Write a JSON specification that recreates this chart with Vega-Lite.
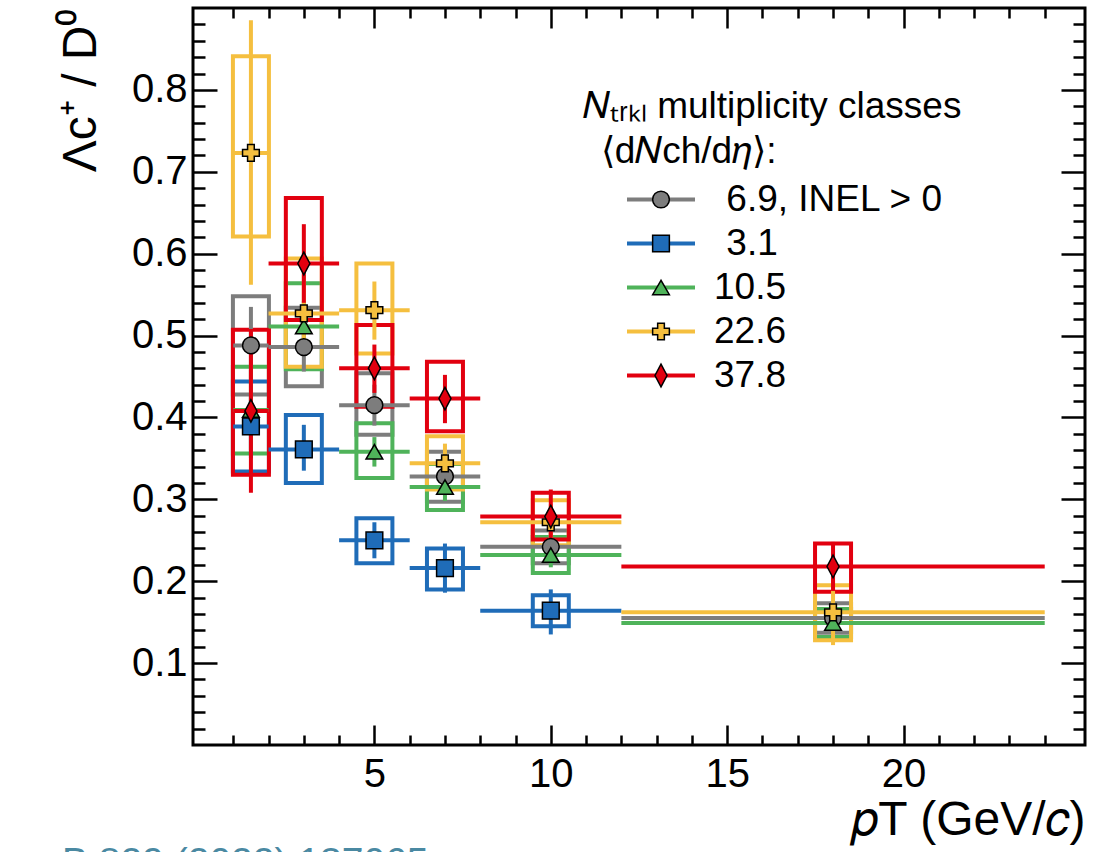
{
  "$schema": "https://vega.github.io/schema/vega-lite/v6.json",
  "width": 892,
  "height": 737,
  "autosize": {"type": "none"},
  "padding": {"left": 193, "top": 8, "right": 16, "bottom": 107},
  "background": "white",
  "title": {"text": "B 829 (2022) 137065", "orient": "bottom", "anchor": "start", "frame": "group", "dx": -131, "offset": 0, "font": "Liberation Sans", "fontSize": 39, "fontWeight": "normal", "color": "#4a89a2"},
  "config": {
    "view": {"stroke": "black", "strokeWidth": 3},
    "font": "Liberation Sans",
    "axis": {"domain": false, "grid": false, "tickColor": "black", "tickWidth": 2.5, "labelColor": "black", "labelFont": "Liberation Sans", "labelFontSize": 40, "labelOverlap": false, "titleFont": "Liberation Sans", "titleFontWeight": "normal", "titleColor": "black"}
  },
  "data": {
    "values": [
      {"cls": "6.9, INEL > 0", "pt": 1.5, "xlo": 1, "xhi": 2, "y": 0.488, "slo": 0.441, "shi": 0.535, "ylo": 0.428, "yhi": 0.548},
      {"cls": "6.9, INEL > 0", "pt": 3, "xlo": 2, "xhi": 4, "y": 0.486, "slo": 0.456, "shi": 0.516, "ylo": 0.438, "yhi": 0.534},
      {"cls": "6.9, INEL > 0", "pt": 5, "xlo": 4, "xhi": 6, "y": 0.415, "slo": 0.39, "shi": 0.44, "ylo": 0.379, "yhi": 0.454},
      {"cls": "6.9, INEL > 0", "pt": 7, "xlo": 6, "xhi": 8, "y": 0.328, "slo": 0.31, "shi": 0.346, "ylo": 0.297, "yhi": 0.358},
      {"cls": "6.9, INEL > 0", "pt": 10, "xlo": 8, "xhi": 12, "y": 0.242, "slo": 0.225, "shi": 0.259, "ylo": 0.222, "yhi": 0.262},
      {"cls": "6.9, INEL > 0", "pt": 18, "xlo": 12, "xhi": 24, "y": 0.155, "slo": 0.135, "shi": 0.175, "ylo": 0.137, "yhi": 0.173},
      {"cls": "3.1", "pt": 1.5, "xlo": 1, "xhi": 2, "y": 0.389, "slo": 0.35, "shi": 0.428, "ylo": 0.334, "yhi": 0.444},
      {"cls": "3.1", "pt": 3, "xlo": 2, "xhi": 4, "y": 0.361, "slo": 0.335, "shi": 0.391, "ylo": 0.32, "yhi": 0.403},
      {"cls": "3.1", "pt": 5, "xlo": 4, "xhi": 6, "y": 0.25, "slo": 0.228, "shi": 0.272, "ylo": 0.222, "yhi": 0.277},
      {"cls": "3.1", "pt": 7, "xlo": 6, "xhi": 8, "y": 0.216, "slo": 0.186, "shi": 0.246, "ylo": 0.19, "yhi": 0.24},
      {"cls": "3.1", "pt": 10, "xlo": 8, "xhi": 12, "y": 0.164, "slo": 0.135, "shi": 0.19, "ylo": 0.145, "yhi": 0.183},
      {"cls": "10.5", "pt": 1.5, "xlo": 1, "xhi": 2, "y": 0.409, "slo": 0.36, "shi": 0.458, "ylo": 0.356, "yhi": 0.462},
      {"cls": "10.5", "pt": 3, "xlo": 2, "xhi": 4, "y": 0.511, "slo": 0.48, "shi": 0.542, "ylo": 0.459, "yhi": 0.564},
      {"cls": "10.5", "pt": 5, "xlo": 4, "xhi": 6, "y": 0.358, "slo": 0.34, "shi": 0.376, "ylo": 0.326, "yhi": 0.393},
      {"cls": "10.5", "pt": 7, "xlo": 6, "xhi": 8, "y": 0.315, "slo": 0.298, "shi": 0.332, "ylo": 0.287, "yhi": 0.343},
      {"cls": "10.5", "pt": 10, "xlo": 8, "xhi": 12, "y": 0.232, "slo": 0.217, "shi": 0.247, "ylo": 0.21, "yhi": 0.254},
      {"cls": "10.5", "pt": 18, "xlo": 12, "xhi": 24, "y": 0.149, "slo": 0.134, "shi": 0.164, "ylo": 0.132, "yhi": 0.166},
      {"cls": "22.6", "pt": 1.5, "xlo": 1, "xhi": 2, "y": 0.723, "slo": 0.562, "shi": 0.885, "ylo": 0.621, "yhi": 0.841},
      {"cls": "22.6", "pt": 3, "xlo": 2, "xhi": 4, "y": 0.527, "slo": 0.48, "shi": 0.574, "ylo": 0.462, "yhi": 0.594},
      {"cls": "22.6", "pt": 5, "xlo": 4, "xhi": 6, "y": 0.531, "slo": 0.495, "shi": 0.566, "ylo": 0.478, "yhi": 0.588},
      {"cls": "22.6", "pt": 7, "xlo": 6, "xhi": 8, "y": 0.344, "slo": 0.32, "shi": 0.368, "ylo": 0.312, "yhi": 0.377},
      {"cls": "22.6", "pt": 10, "xlo": 8, "xhi": 12, "y": 0.272, "slo": 0.25, "shi": 0.294, "ylo": 0.244, "yhi": 0.299},
      {"cls": "22.6", "pt": 18, "xlo": 12, "xhi": 24, "y": 0.162, "slo": 0.122, "shi": 0.202, "ylo": 0.128, "yhi": 0.195},
      {"cls": "37.8", "pt": 1.5, "xlo": 1, "xhi": 2, "y": 0.408, "slo": 0.308, "shi": 0.508, "ylo": 0.33, "yhi": 0.507},
      {"cls": "37.8", "pt": 3, "xlo": 2, "xhi": 4, "y": 0.588, "slo": 0.54, "shi": 0.636, "ylo": 0.519, "yhi": 0.668},
      {"cls": "37.8", "pt": 5, "xlo": 4, "xhi": 6, "y": 0.46, "slo": 0.43, "shi": 0.489, "ylo": 0.413, "yhi": 0.513},
      {"cls": "37.8", "pt": 7, "xlo": 6, "xhi": 8, "y": 0.423, "slo": 0.393, "shi": 0.452, "ylo": 0.383, "yhi": 0.468},
      {"cls": "37.8", "pt": 10, "xlo": 8, "xhi": 12, "y": 0.279, "slo": 0.245, "shi": 0.312, "ylo": 0.251, "yhi": 0.308},
      {"cls": "37.8", "pt": 18, "xlo": 12, "xhi": 24, "y": 0.218, "slo": 0.188, "shi": 0.248, "ylo": 0.187, "yhi": 0.246}
    ]
  },
  "layer": [
    {
      "mark": {"type": "bar", "filled": false, "width": 36, "strokeWidth": 4},
      "encoding": {
        "x": {"field": "pt", "type": "quantitative", "scale": {"domain": [0, 25], "nice": false, "zero": false},
          "axis": {"orient": "bottom", "values": [1,2,3,4,5,6,7,8,9,10,11,12,13,14,15,16,17,18,19,20,21,22,23,24],
            "tickSize": {"condition": {"test": "datum.value % 5 === 0", "value": -20}, "value": -10},
            "labelExpr": "datum.value % 5 === 0 ? datum.label : ''", "labelPadding": 29,
            "title": "𝑝T (GeV/𝑐)", "titleFontSize": 48, "titleAnchor": "end", "titlePadding": -8}},
        "y": {"field": "ylo", "type": "quantitative", "scale": {"domain": [0, 0.9], "nice": false, "zero": false},
          "axis": {"orient": "left", "values": [0.02,0.04,0.06,0.08,0.1,0.12,0.14,0.16,0.18,0.2,0.22,0.24,0.26,0.28,0.3,0.32,0.34,0.36,0.38,0.4,0.42,0.44,0.46,0.48,0.5,0.52,0.54,0.56,0.58,0.6,0.62,0.64,0.66,0.68,0.7,0.72,0.74,0.76,0.78,0.8,0.82,0.84,0.86,0.88],
            "format": ".1f",
            "tickSize": {"condition": {"test": "abs(datum.value*10 - round(datum.value*10)) < 0.001", "value": -24}, "value": -12},
            "labelExpr": "abs(datum.value*10 - round(datum.value*10)) < 0.001 ? datum.label : ''", "labelPadding": 30,
            "title": "Λc⁺ / D⁰", "titleFontSize": 48, "titleAnchor": "end", "titlePadding": 26}},
        "y2": {"field": "yhi"},
        "stroke": {
          "field": "cls", "type": "nominal",
          "sort": ["6.9, INEL > 0", "3.1", "10.5", "22.6", "37.8"],
          "scale": {"range": ["#7d7d7d", "#1f6cb8", "#4fb35a", "#f5bf3f", "#e2000f"]},
          "legend": {
            "orient": "none", "legendX": 390, "legendY": 81, "padding": 0, "zindex": 0,
            "title": ["𝑁ₜᵣₖₗ multiplicity classes", "\u200b\u00a0\u2009⟨d𝑁ch/d𝜂⟩:"],
            "titleFont": "Liberation Sans", "titleFontSize": 37, "titleFontWeight": "normal", "titleColor": "black", "titleLineHeight": 45, "titlePadding": 10, "titleLimit": 700,
            "symbolType": "M-4,0H4", "symbolSize": 289, "symbolStrokeWidth": 4, "symbolOffset": 59.5, "symbolFillColor": "transparent",
            "labelFont": "Liberation Sans", "labelFontSize": 37, "labelColor": "black", "labelOffset": 34.5, "labelLimit": 500,
            "labelExpr": "datum.label === '6.9, INEL > 0' || datum.label === '3.1' ? '\u200b\u2005\u200a' + datum.label : datum.label",
            "rowPadding": 6
          }
        }
      }
    },
    {
      "mark": {"type": "rule", "strokeWidth": 4},
      "encoding": {
        "x": {"field": "xlo", "type": "quantitative", "axis": null},
        "x2": {"field": "xhi"},
        "y": {"field": "y", "type": "quantitative", "axis": null},
        "stroke": {"field": "cls", "type": "nominal", "sort": ["6.9, INEL > 0", "3.1", "10.5", "22.6", "37.8"]}
      }
    },
    {
      "mark": {"type": "rule", "strokeWidth": 4},
      "encoding": {
        "x": {"field": "pt", "type": "quantitative", "axis": null},
        "y": {"field": "slo", "type": "quantitative", "axis": null},
        "y2": {"field": "shi"},
        "stroke": {"field": "cls", "type": "nominal", "sort": ["6.9, INEL > 0", "3.1", "10.5", "22.6", "37.8"]}
      }
    },
    {
      "mark": {"type": "point", "filled": true, "size": 280, "stroke": "black", "strokeWidth": 1.5, "opacity": 1},
      "encoding": {
        "x": {"field": "pt", "type": "quantitative",
          "axis": {"orient": "top", "values": [1,2,3,4,5,6,7,8,9,10,11,12,13,14,15,16,17,18,19,20,21,22,23,24], "labels": false, "title": null,
            "tickSize": {"condition": {"test": "datum.value % 5 === 0", "value": -20}, "value": -10}}},
        "y": {"field": "y", "type": "quantitative",
          "axis": {"orient": "right", "values": [0.02,0.04,0.06,0.08,0.1,0.12,0.14,0.16,0.18,0.2,0.22,0.24,0.26,0.28,0.3,0.32,0.34,0.36,0.38,0.4,0.42,0.44,0.46,0.48,0.5,0.52,0.54,0.56,0.58,0.6,0.62,0.64,0.66,0.68,0.7,0.72,0.74,0.76,0.78,0.8,0.82,0.84,0.86,0.88], "labels": false, "title": null,
            "tickSize": {"condition": {"test": "abs(datum.value*10 - round(datum.value*10)) < 0.001", "value": -24}, "value": -12}}},
        "color": {"field": "cls", "type": "nominal",
          "scale": {"domain": ["6.9, INEL > 0", "3.1", "10.5", "22.6", "37.8"], "range": ["#7d7d7d", "#1f6cb8", "#4fb35a", "#f5bf3f", "#e2000f"]},
          "legend": {
            "orient": "none", "legendX": 390, "legendY": 81, "padding": 0, "zindex": 1,
            "title": ["𝑁ₜᵣₖₗ multiplicity classes", "\u200b\u00a0\u2009⟨d𝑁ch/d𝜂⟩:"],
            "titleFont": "Liberation Sans", "titleFontSize": 37, "titleFontWeight": "normal", "titleColor": "transparent", "titleLineHeight": 45, "titlePadding": 10, "titleLimit": 700,
            "symbolSize": 280, "symbolOffset": 59.5, "symbolStrokeColor": "black", "symbolStrokeWidth": 1.5,
            "labelFont": "Liberation Sans", "labelFontSize": 37, "labelColor": "transparent", "labelOffset": 34.5, "labelLimit": 500,
            "labelExpr": "''",
            "rowPadding": 6
          }
        },
        "shape": {"field": "cls", "type": "nominal",
          "scale": {"domain": ["6.9, INEL > 0", "3.1", "10.5", "22.6", "37.8"], "range": ["circle", "square", "triangle-up", "cross", "M0,-1.35L0.72,0L0,1.35L-0.72,0Z"]}
        }
      }
    }
  ],
  "resolve": {"axis": {"x": "independent", "y": "independent"}}
}
